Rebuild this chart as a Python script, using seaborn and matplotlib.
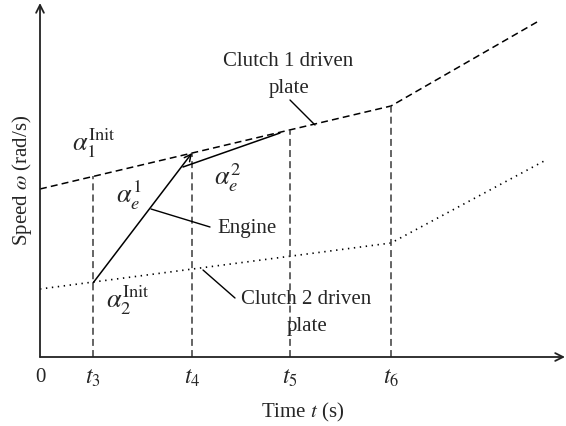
import numpy as np
import pandas as pd
import matplotlib
matplotlib.use("Agg")
import matplotlib.pyplot as plt
import seaborn as sns

# ---- data (time units, speed units) ----
tick_pos = [0.0, 0.53, 1.52, 2.50, 3.51]
tick_labels = ["0", "$t_3$", "$t_4$", "$t_5$", "$t_6$"]

clutch1_t = [0.0, 3.51, 4.97]
clutch1_w = [1.68, 2.51, 3.35]

clutch2_t = [0.0, 3.51, 5.06]
clutch2_w = [0.68, 1.14, 1.97]

engine1_t = [0.53, 1.52]
engine1_w = [0.74, 2.04]
engine2_t = [1.43, 2.40]
engine2_w = [1.90, 2.24]

vline_t = tick_pos[1:]

sns.set_theme(style="white")
plt.rcParams["font.family"] = ["Liberation Serif", "DejaVu Serif"]
plt.rcParams["mathtext.fontset"] = "stix"
plt.rcParams["lines.scale_dashes"] = False

W, H = 566, 426
fig = plt.figure(figsize=(W / 100, H / 100), dpi=100)
x0, x1, ytop, ybot = 40, 565, 3, 357
ax = fig.add_axes([x0 / W, (H - ybot) / H, (x1 - x0) / W, (ybot - ytop) / H])
ax.set_xlim(0, 5.25)
ax.set_ylim(0, 3.54)
for s in ax.spines.values():
    s.set_visible(False)

FS = 15
MFS = 19

# axes with arrows
ax.annotate("", xy=(5.25, 0), xytext=(0, 0), xycoords="data",
            arrowprops=dict(arrowstyle="->", lw=1.3, color="#222", shrinkA=0, shrinkB=0,
                            mutation_scale=14), annotation_clip=False)
ax.annotate("", xy=(0, 3.54), xytext=(0, 0), xycoords="data",
            arrowprops=dict(arrowstyle="->", lw=1.3, color="#222", shrinkA=0, shrinkB=0,
                            mutation_scale=14), annotation_clip=False)

# curves
df1 = pd.DataFrame({"t": clutch1_t, "w": clutch1_w})
df2 = pd.DataFrame({"t": clutch2_t, "w": clutch2_w})
sns.lineplot(data=df1, x="t", y="w", ax=ax, color="black", lw=1.1)
l1 = ax.lines[-1]
l1.set_dashes((5, 3))
sns.lineplot(data=df2, x="t", y="w", ax=ax, color="black", lw=1.2)
l2 = ax.lines[-1]
l2.set_dashes((1, 3.3))

# vertical dashed lines up to clutch 1
for t in vline_t:
    top = np.interp(t, clutch1_t, clutch1_w)
    ax.plot([t, t], [0, top], color="#3a3a3a", lw=1.1, dashes=(5, 3))

# engine
ax.annotate("", xy=(engine1_t[1], engine1_w[1]), xytext=(engine1_t[0], engine1_w[0]),
            arrowprops=dict(arrowstyle="->", lw=1.1, color="black", shrinkA=0, shrinkB=0,
                            mutation_scale=12))
sns.lineplot(x=engine2_t, y=engine2_w, ax=ax, color="black", lw=1.1)

# leader lines
def leader(p, q):
    ax.plot([p[0], q[0]], [p[1], q[1]], color="black", lw=1.0)

leader((2.75, 2.32), (2.50, 2.57))
leader((1.11, 1.48), (1.70, 1.30))
leader((1.63, 0.87), (1.95, 0.59))

# texts
ax.text(2.48, 2.95, "Clutch 1 driven", ha="center", va="center", fontsize=FS)
ax.text(2.49, 2.69, "plate", ha="center", va="center", fontsize=FS)
ax.text(1.77, 1.28, "Engine", ha="left", va="center", fontsize=FS)
ax.text(2.66, 0.57, "Clutch 2 driven", ha="center", va="center", fontsize=FS)
ax.text(2.67, 0.30, "plate", ha="center", va="center", fontsize=FS)
ax.text(0.54, 2.14, r"$\alpha_1^{\mathrm{Init}}$", ha="center", va="center", fontsize=MFS)
ax.text(0.89, 1.62, r"$\alpha_e^1$", ha="center", va="center", fontsize=MFS)
ax.text(1.88, 1.79, r"$\alpha_e^2$", ha="center", va="center", fontsize=MFS)
ax.text(0.88, 0.57, r"$\alpha_2^{\mathrm{Init}}$", ha="center", va="center", fontsize=MFS)

ax.set_xticks(tick_pos)
ax.set_xticklabels(tick_labels, fontsize=17)
ax.get_xticklabels()[0].set_fontsize(FS)
ax.set_yticks([])
ax.tick_params(axis="x", length=0, pad=8)
ax.set_xlabel("Time $t$ (s)", fontsize=FS, labelpad=8)
ax.set_ylabel(r"Speed $\omega$ (rad/s)", fontsize=FS, labelpad=4)

fig.savefig("out.png", dpi=100)
